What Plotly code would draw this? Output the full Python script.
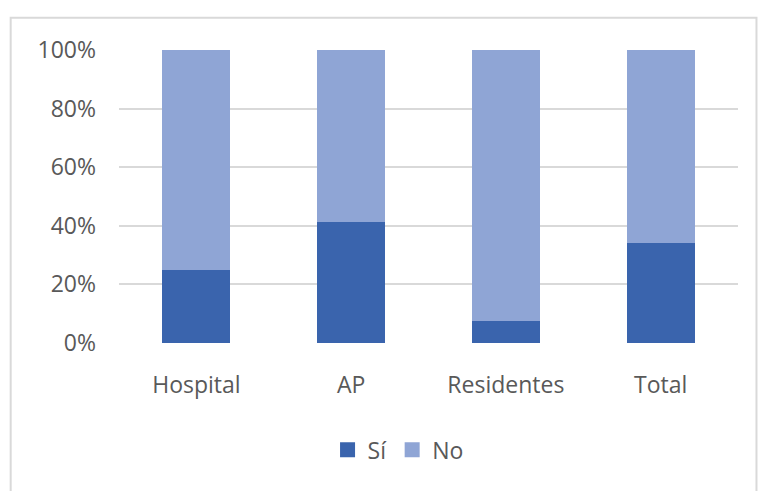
import plotly.graph_objects as go

categories = ["Hospital", "AP", "Residentes", "Total"]
si_values = [25.0, 41.2, 7.4, 34.1]
no_values = [100 - v for v in si_values]
tick_vals = [0, 20, 40, 60, 80, 100]
tick_text = ["0%", "20%", "40%", "60%", "80%", "100%"]
series_names = ["Sí", "No"]
series_colors = ["#3A64AD", "#8FA5D5"]

W, H = 760, 491
L, R, T, B = 118.5, 738.5, 50.3, 343.3
pw, ph = R - L, B - T

def px(x):
    return (x - L) / pw

def py(y):
    return (B - y) / ph

font = dict(family="Open Sans, Liberation Sans, sans-serif", size=23, color="#595959")

fig = go.Figure()
for name, vals, col in zip(series_names, [si_values, no_values], series_colors):
    fig.add_trace(go.Bar(x=categories, y=vals, name=name, showlegend=False,
                         marker=dict(color=col, line=dict(width=0))))
# legend proxies with larger square swatches
for name, col in zip(series_names, series_colors):
    fig.add_trace(go.Scatter(x=[None], y=[None], mode="markers", name=name,
                             marker=dict(symbol="square", size=15, color=col)))

fig.update_layout(
    barmode="stack",
    bargap=0.56,
    width=W, height=H,
    margin=dict(l=L, r=W - R, t=T, b=H - B, autoexpand=False),
    paper_bgcolor="white",
    plot_bgcolor="white",
    font=font,
    showlegend=True,
    legend=dict(orientation="h", x=px(398), xanchor="center", y=py(450), yanchor="middle",
                font=dict(size=23, color="#595959"), itemwidth=30, traceorder="normal",
                itemclick=False),
    xaxis=dict(showline=False, ticks="", showgrid=False, tickfont=font, ticklabelstandoff=26),
    yaxis=dict(range=[0, 100], tickvals=tick_vals, ticktext=tick_text, showgrid=True,
               gridcolor="#D9D9D9", gridwidth=2, zeroline=False, showline=False,
               ticks="", ticklabelstandoff=22, tickfont=font),
    shapes=[dict(type="rect", xref="paper", yref="paper",
                 x0=px(10), x1=px(757), y0=py(495), y1=py(18),
                 line=dict(color="#D9D9D9", width=2), fillcolor="rgba(0,0,0,0)", layer="below")],
)

fig.write_html("out.html")
